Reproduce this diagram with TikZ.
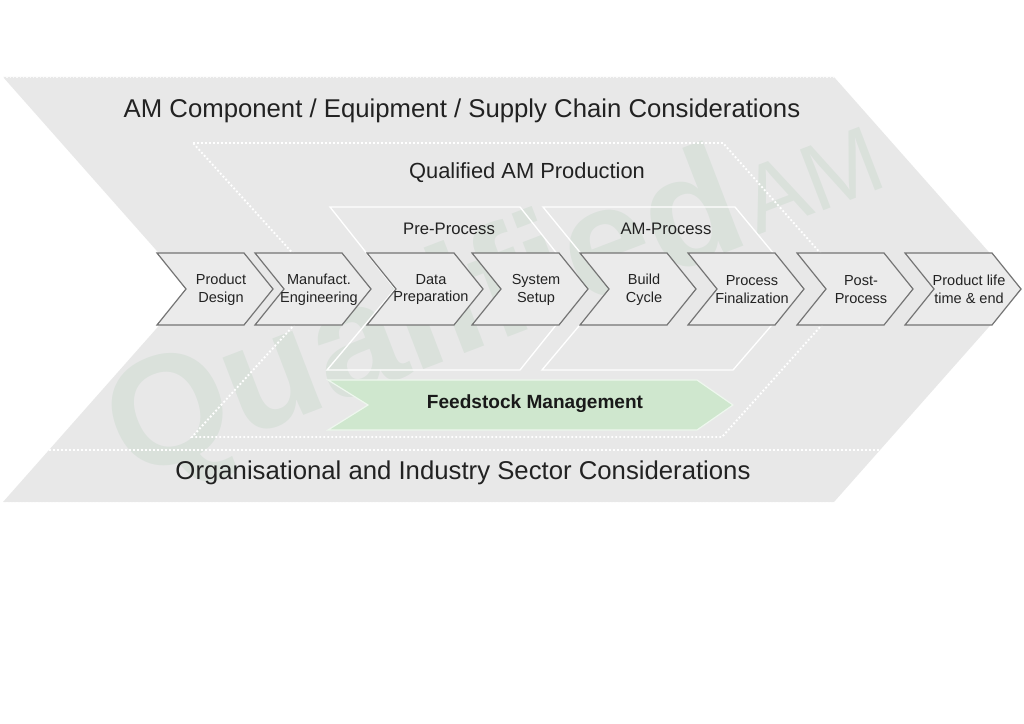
\documentclass[tikz,border=0pt]{standalone}
\usepackage{fontspec}
\setmainfont{Liberation Sans}
\definecolor{bgfill}{HTML}{E8E8E8}
\definecolor{stepfill}{HTML}{EBEBEB}
\definecolor{stepedge}{HTML}{747474}
\definecolor{txt}{HTML}{222222}
\definecolor{feedfill}{HTML}{CFE7CE}
\definecolor{feededge}{HTML}{EEF7EE}
\definecolor{wmgreen}{HTML}{2E8B40}
\begin{document}
\begin{tikzpicture}[x=0.75pt,y=-0.75pt,
  stepbox/.style={draw=stepedge,fill=stepfill,line width=0.9pt,line join=miter},
  lbl/.style={font=\fontsize{10.9}{13.4}\selectfont,text=txt,align=center,inner sep=0pt},
  bigtitle/.style={font=\fontsize{19.3}{22}\selectfont,text=txt,inner sep=0pt},
  midtitle/.style={font=\fontsize{16.4}{19}\selectfont,text=txt,inner sep=0pt},
  subtitle/.style={font=\fontsize{12.5}{14}\selectfont,text=txt,inner sep=0pt},
  phasebox/.style={draw=white,line width=1pt},
  dotline/.style={draw=white,line width=1.4pt,dash pattern=on 1.4pt off 1.6pt},
  edgedots/.style={draw=white,line width=0.6pt,dash pattern=on 1pt off 1.5pt,opacity=0.8},
  wm/.style={text=wmgreen,opacity=0.075,inner sep=0pt}
]
\useasboundingbox (0,0) rectangle (1024,724);
\fill[white] (0,0) rectangle (1024,724);

% outer chevron
\fill[bgfill] (3,77) -- (834,77) -- (1022,289.5) -- (834,502) -- (3,502) -- (191,289.5) -- cycle;
\draw[edgedots] (3,77) -- (834,77);
\draw[edgedots] (3,502) -- (834,502);

% watermark (behind the diagram elements)
\node[wm,font=\fontsize{117}{117}\bfseries\selectfont,rotate=21,anchor=base west] (wmq) at (130,482) {Qualified};
\node[wm,font=\fontsize{71}{71}\selectfont,rotate=21,anchor=base west] (wma) at (757,236) {AM};

\draw[dotline] (49,450) -- (880,450);

% qualified production area
\draw[dotline] (193,143) -- (723,143) -- (853,290) -- (722,437) -- (192,437) -- (326,290) -- cycle;

% phase boxes
\draw[phasebox] (330,207) -- (520,207) -- (585,289) -- (520,370) -- (327,370) -- (395,289) -- cycle;
\draw[phasebox] (543,207) -- (735,207) -- (803,289) -- (733,370) -- (542,370) -- (610,289) -- cycle;

% process steps
\foreach \L/\nm/\txt in {157/pd/{Product\\Design},255/me/{Manufact.\\Engineering},367/dp/{Data\\Preparation},472/ss/{System\\Setup},580/bc/{Build\\Cycle},688/pf/{Process\\Finalization},797/pp/{Post-\\Process},905/pl/{Product life\\time \& end}}{
  \draw[stepbox] (\L,253) -- (\L+87,253) -- (\L+116,289) -- (\L+87,325) -- (\L,325) -- (\L+29,289) -- cycle;
  \node[lbl] (\nm) at (\L+64,289.5) {\txt};
}

% feedstock
\draw[fill=feedfill,draw=feededge,line width=0.9pt] (328,380) -- (697,380) -- (733,405) -- (697,430) -- (328,430) -- (368,405) -- cycle;
\node[font=\fontsize{14.3}{16}\bfseries\selectfont,text=black!90,inner sep=0pt] (feed) at (535,404) {Feedstock Management};

% titles
\node[bigtitle] (top) at (462,111) {AM Component / Equipment / Supply Chain Considerations};
\node[midtitle] (qual) at (527,173) {Qualified AM Production};
\node[subtitle] (pre) at (449,228.5) {Pre-Process};
\node[subtitle] (amp) at (666,228.5) {AM-Process};
\node[bigtitle] (org) at (463,473) {Organisational and Industry Sector Considerations};
\end{tikzpicture}
\end{document}
